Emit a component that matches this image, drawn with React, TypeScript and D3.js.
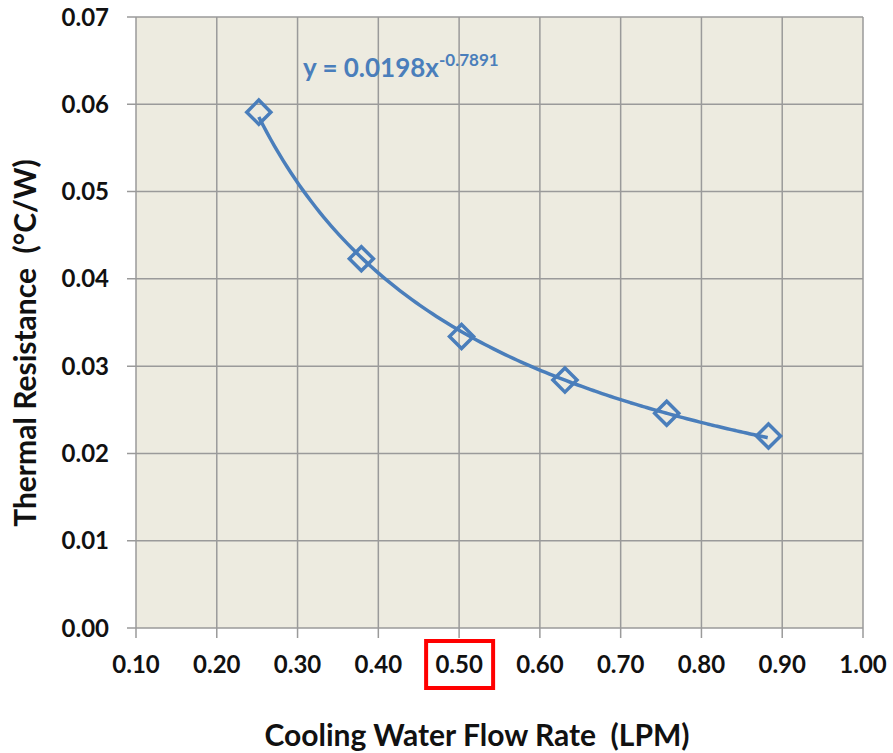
import React from 'react';
import * as d3 from 'd3';

// measured points
const flowRate = [0.252, 0.379, 0.503, 0.631, 0.757, 0.883];
const resistance = [0.0591, 0.0423, 0.0334, 0.0284, 0.0246, 0.022];
const xTicks = [0.1, 0.2, 0.3, 0.4, 0.5, 0.6, 0.7, 0.8, 0.9, 1.0];
const yTicks = [0, 0.01, 0.02, 0.03, 0.04, 0.05, 0.06, 0.07];
const eqCoef = '0.0198';
const eqExp = '-0.7891';
const highlightTick = 0.5;

const W = 893;
const H = 753;
const blue = '#4A7EBB';
const font = 'Lato, "Open Sans", sans-serif';

export default function App() {
  const x = d3.scaleLinear().domain([0.1, 1.0]).range([136, 863]);
  const y = d3.scaleLinear().domain([0, 0.07]).range([628, 17]);

  // power trendline fitted in log space from the points
  const lx = flowRate.map(Math.log);
  const ly = resistance.map(Math.log);
  const mx = d3.mean(lx)!;
  const my = d3.mean(ly)!;
  const b = d3.sum(lx.map((v, i) => (v - mx) * (ly[i] - my))) / d3.sum(lx.map(v => (v - mx) ** 2));
  const a = Math.exp(my - b * mx);
  const xs = d3.range(flowRate[0], flowRate[flowRate.length - 1] + 1e-9, 0.005);
  const trend = d3.line<number>().x(d => x(d)).y(d => y(a * Math.pow(d, b))).curve(d3.curveBasis)(xs);

  const diamond = d3.symbol().type(d3.symbolSquare).size(290)();

  return (
    <svg width={W} height={H} style={{ position: 'absolute', left: 0, top: 0, background: '#fff' }}>
      <rect x={x(0.1)} y={y(0.07)} width={x(1) - x(0.1)} height={y(0) - y(0.07)} fill="#EDEBE0" />
      {xTicks.map(t => (
        <line key={'gx' + t} x1={x(t)} x2={x(t)} y1={y(0.07)} y2={y(0) + 10} stroke="#9a9a9a" strokeWidth={1.5} />
      ))}
      {yTicks.map(t => (
        <line key={'gy' + t} x1={x(0.1) - 9} x2={x(1)} y1={y(t)} y2={y(t)} stroke="#9a9a9a" strokeWidth={1.5} />
      ))}
      {yTicks.map(t => (
        <text key={'ly' + t} x={109} y={y(t)} dy="0.36em" textAnchor="end" fontFamily={font} fontWeight="bold" fontSize={24} fill="#111">
          {t.toFixed(2)}
        </text>
      ))}
      {xTicks.map(t => (
        <text key={'lx' + t} x={x(t)} y={673} textAnchor="middle" fontFamily={font} fontWeight="bold" fontSize={24} fill="#111">
          {t.toFixed(2)}
        </text>
      ))}
      <rect x={x(highlightTick) - 33} y={641} width={67} height={47} fill="none" stroke="#FF0000" strokeWidth={4} />
      <path d={trend ?? ''} fill="none" stroke={blue} strokeWidth={3.5} />
      {flowRate.map((v, i) => (
        <path key={'m' + i} d={diamond ?? ''} transform={`translate(${x(v)},${y(resistance[i])}) rotate(45)`} fill="none" stroke={blue} strokeWidth={3.5} />
      ))}
      <text x={303} y={77} fontFamily={font} fontWeight="bold" fontSize={26} fill={blue}>
        y = {eqCoef}x
        <tspan dy={-11} fontSize={17}>{eqExp}</tspan>
      </text>
      <text x={477} y={746} textAnchor="middle" fontFamily={font} fontWeight="bold" fontSize={30} fill="#111" style={{ whiteSpace: 'pre' }}>
        Cooling Water Flow Rate  (LPM)
      </text>
      <text transform="translate(36,343) rotate(-90)" textAnchor="middle" fontFamily={font} fontWeight="bold" fontSize={30} fill="#111" style={{ whiteSpace: 'pre' }}>
        Thermal Resistance  (°C/W)
      </text>
    </svg>
  );
}
